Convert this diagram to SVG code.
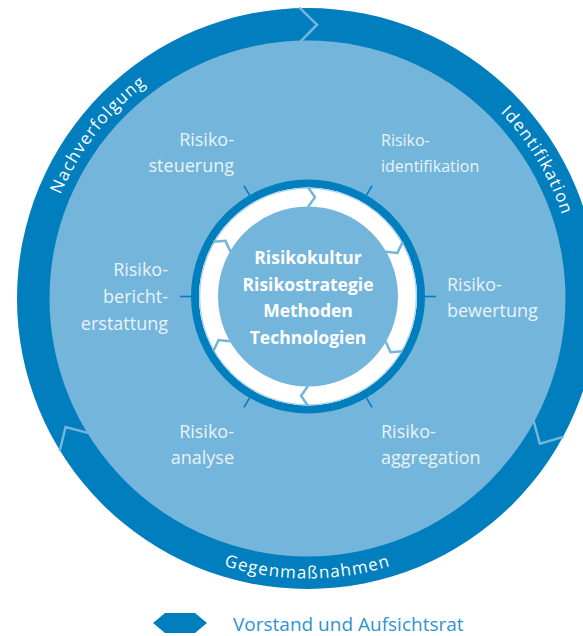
<svg xmlns="http://www.w3.org/2000/svg" xmlns:xlink="http://www.w3.org/1999/xlink" width="583" height="636" viewBox="0 0 583 636">
<style>
.lbl{font-family:"Open Sans","Liberation Sans",sans-serif;font-size:18px;fill:#ffffff;fill-opacity:0.86}
.sm{font-size:16px}
.ring{font-family:"Open Sans","Liberation Sans",sans-serif;font-size:17px;fill:#ffffff;letter-spacing:1.2px}
.core{font-family:"Open Sans","Liberation Sans",sans-serif;font-size:17.5px;font-weight:bold;fill:#ffffff;text-anchor:middle}
.chev{fill:none;stroke:#74b6db;stroke-width:2.5;stroke-linejoin:miter}
.tick{stroke:#007ebe;stroke-width:1.6}
.legend{font-family:"Open Sans","Liberation Sans",sans-serif;font-size:19px;fill:#2f93d1}
</style>
<defs>
<path id="ochev" d="M291,0 L273.46,17.2 L257,0"/>
<path id="ichev" d="M109.5,0 L99.26,6.94 L89.5,0"/>
<path id="pNach" d="M55.7,390.2 A268,268 0 0 1 335.5,32.0"/>
<path id="pIdent" d="M307.5,30.5 A268,268 0 0 1 544.1,424.3"/>
<path id="pGegen" d="M65,438.5 A280,280 0 0 0 550,438.5"/>
</defs>

<g id="outer-ring">
<circle cx="307.5" cy="298.5" r="290.5" fill="#007ebe"/>
<circle cx="307.5" cy="298.5" r="258" fill="#74b6db"/>
<use xlink:href="#ochev" class="chev" transform="translate(307.5 298.5) rotate(-91.6)"/>
<use xlink:href="#ochev" class="chev" transform="translate(307.5 298.5) rotate(28.4)"/>
<use xlink:href="#ochev" class="chev" transform="translate(307.5 298.5) rotate(148.4)"/>
</g>

<g id="phase-nachverfolgung"><text class="ring"><textPath xlink:href="#pNach" startOffset="50%" text-anchor="middle">Nachverfolgung</textPath></text></g>
<g id="phase-identifikation"><text class="ring"><textPath xlink:href="#pIdent" startOffset="50%" text-anchor="middle">Identifikation</textPath></text></g>
<g id="phase-gegenmassnahmen"><text class="ring"><textPath xlink:href="#pGegen" startOffset="50%" text-anchor="middle">Gegenmaßnahmen</textPath></text></g>

<g id="core">
<circle cx="308" cy="296.5" r="113" fill="none" stroke="#007ebe" stroke-width="8"/>
<circle cx="308" cy="296.5" r="99.5" fill="none" stroke="#ffffff" stroke-width="19"/>
<circle cx="308" cy="296.5" r="108.3" fill="none" stroke="#a9d3ec" stroke-width="1.2"/>
<use xlink:href="#ichev" class="chev" transform="translate(308 296.5) rotate(-90)"/>
<use xlink:href="#ichev" class="chev" transform="translate(308 296.5) rotate(-30)"/>
<use xlink:href="#ichev" class="chev" transform="translate(308 296.5) rotate(30)"/>
<use xlink:href="#ichev" class="chev" transform="translate(308 296.5) rotate(90)"/>
<use xlink:href="#ichev" class="chev" transform="translate(308 296.5) rotate(150)"/>
<use xlink:href="#ichev" class="chev" transform="translate(308 296.5) rotate(210)"/>
<text class="core" x="308" y="264">Risikokultur</text>
<text class="core" x="308" y="291">Risikostrategie</text>
<text class="core" x="308" y="317">Methoden</text>
<text class="core" x="308" y="344">Technologien</text>
</g>

<g id="connectors">
<line class="tick" x1="425" y1="296.5" x2="436" y2="296.5"/>
<line class="tick" x1="366.5" y1="397.8" x2="372" y2="407.4"/>
<line class="tick" x1="249.5" y1="397.8" x2="244" y2="407.4"/>
<line class="tick" x1="191" y1="296.5" x2="180" y2="296.5"/>
<line class="tick" x1="249.5" y1="195.2" x2="244" y2="185.6"/>
<line class="tick" x1="366.5" y1="195.2" x2="372" y2="185.6"/>
</g>

<g id="risikosteuerung"><text class="lbl" text-anchor="end"><tspan x="234" y="146">Risiko-</tspan><tspan x="234" y="172">steuerung</tspan></text></g>
<g id="risikoidentifikation"><text class="lbl sm"><tspan x="381" y="146">Risiko-</tspan><tspan x="381" y="172">identifikation</tspan></text></g>
<g id="risikobewertung"><text class="lbl"><tspan x="447" y="291">Risiko-</tspan><tspan x="447" y="317">bewertung</tspan></text></g>
<g id="risikoberichterstattung"><text class="lbl" text-anchor="end"><tspan x="168" y="276">Risiko-</tspan><tspan x="168" y="303">bericht-</tspan><tspan x="168" y="330">erstattung</tspan></text></g>
<g id="risikoanalyse"><text class="lbl" text-anchor="end"><tspan x="234" y="438">Risiko-</tspan><tspan x="234" y="464">analyse</tspan></text></g>
<g id="risikoaggregation"><text class="lbl"><tspan x="381" y="438">Risiko-</tspan><tspan x="381" y="464">aggregation</tspan></text></g>

<g id="legend">
<polygon points="153,623 165,613 195,613 207,623 195,633 165,633" fill="#007ebe"/>
<text class="legend" x="233" y="631">Vorstand und Aufsichtsrat</text>
</g>
</svg>
